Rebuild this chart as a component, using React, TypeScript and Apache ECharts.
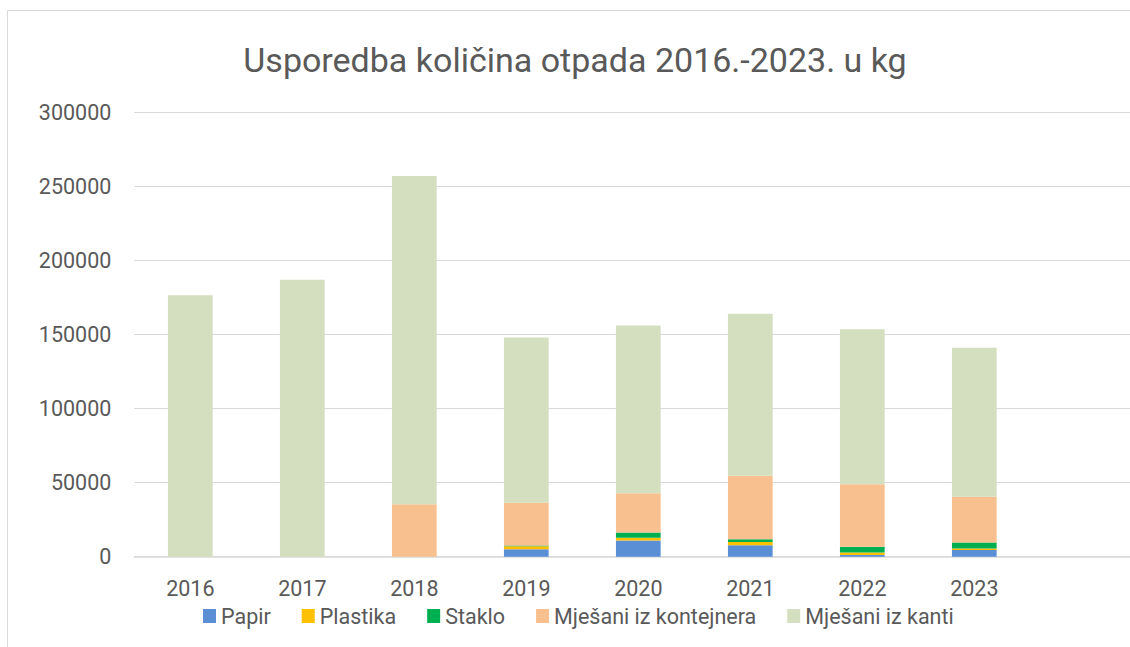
import React, { useEffect, useRef } from "react";
import * as echarts from "echarts";

const years = ["2016", "2017", "2018", "2019", "2020", "2021", "2022", "2023"];
const categories = [...years, ""];
const papir = [0, 0, 0, 5000, 11000, 7700, 1100, 4500];
const plastika = [0, 0, 0, 2000, 1800, 2200, 1800, 1100];
const staklo = [0, 0, 0, 500, 3600, 1800, 3800, 4000];
const kontejner = [0, 0, 35400, 29000, 26400, 43000, 42200, 30900];
const kanti = [176500, 187000, 221600, 111500, 113200, 109300, 104600, 100500];
const seriesNames = ["Papir", "Plastika", "Staklo", "Mješani iz kontejnera", "Mješani iz kanti"];
const seriesColors = ["#5B8FD5", "#FFC000", "#00B050", "#F9C08F", "#D3DFBE"];
const yTicks = { min: 0, max: 300000, interval: 50000 };
const titleText = "Usporedba količina otpada 2016.-2023. u kg";

const FONT = "Roboto, 'Open Sans', sans-serif";
const TXT = "#595959";

export default function App() {
  const ref = useRef<HTMLDivElement>(null);
  useEffect(() => {
    if (!ref.current) return;
    const chart = echarts.init(ref.current, undefined, { renderer: "svg" });
    const allData = [papir, plastika, staklo, kontejner, kanti];
    chart.setOption({
      animation: false,
      backgroundColor: "#ffffff",
      textStyle: { fontFamily: FONT },
      title: {
        text: titleText,
        left: "center",
        top: 43,
        padding: [0, 0, 0, 2],
        textStyle: { fontFamily: FONT, fontSize: 34, fontWeight: "normal", color: TXT },
      },
      graphic: [
        {
          type: "rect",
          shape: { x: 7.5, y: 10.5, width: 1140, height: 700 },
          style: { fill: "none", stroke: "#D9D9D9", lineWidth: 1 },
          silent: true,
        },
      ],
      legend: {
        data: seriesNames,
        left: 198,
        top: 600,
        icon: "rect",
        itemWidth: 13,
        itemHeight: 14,
        itemGap: 31,
        textStyle: { fontFamily: FONT, fontSize: 21.5, color: TXT },
      },
      grid: { left: 134.3, top: 112.3, width: 1008, bottom: 90.3, containLabel: false },
      xAxis: {
        type: "category",
        data: categories,
        axisLine: { show: true, lineStyle: { color: "#D9D9D9", width: 1.5 } },
        axisTick: { show: false },
        axisLabel: { color: TXT, fontFamily: FONT, fontSize: 21.5, margin: 21 },
      },
      yAxis: {
        type: "value",
        min: yTicks.min,
        max: yTicks.max,
        interval: yTicks.interval,
        axisLine: { show: false },
        axisTick: { show: false },
        splitLine: { lineStyle: { color: "#D9D9D9", width: 1.2 } },
        axisLabel: {
          color: TXT,
          fontFamily: FONT,
          fontSize: 21.5,
          margin: 23,
          formatter: (v: number) => String(v),
        },
      },
      series: seriesNames.map((name, i) => ({
        name,
        type: "bar",
        stack: "total",
        barWidth: 44.7,
        itemStyle: { color: seriesColors[i] },
        data: allData[i],
      })),
    });
    return () => chart.dispose();
  }, []);
  return (
    <div
      style={{
        position: "fixed",
        left: 0,
        top: 0,
        width: 1130,
        height: 647,
        overflow: "hidden",
        background: "#fff",
      }}
    >
      <div ref={ref} style={{ width: 1150, height: 647 }} />
    </div>
  );
}
